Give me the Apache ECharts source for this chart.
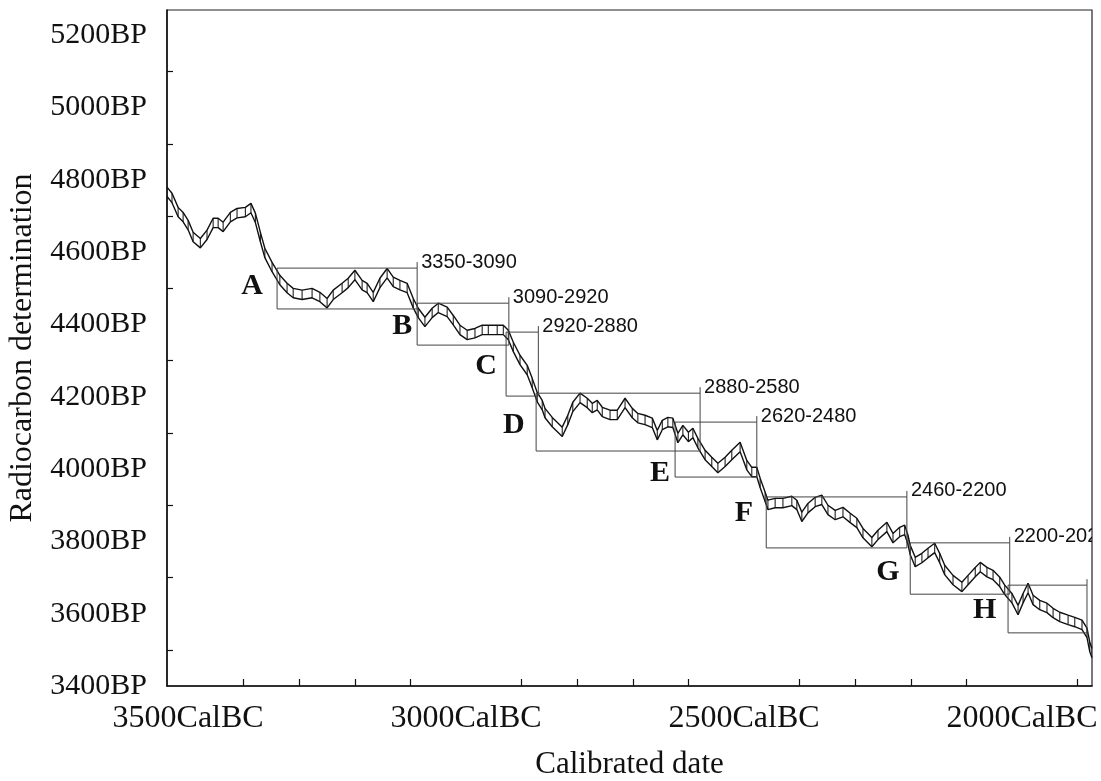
<!DOCTYPE html>
<html>
<head>
<meta charset="utf-8">
<title>Radiocarbon calibration curve plateaus</title>
<script src="https://cdn.jsdelivr.net/npm/echarts@6/dist/echarts.min.js"></script>
<style>
  html, body { margin: 0; padding: 0; background: #fff; }
  #chart { width: 1101px; height: 781px; }
</style>
</head>
<body>
<div id="chart"></div>
<script>
// Calibration curve, mid-line of the 1-sigma band: calendar year (BC) and radiocarbon age (BP)
const calYearsBC = [
  3538, 3529, 3518, 3509, 3500, 3491, 3478, 3466, 3455, 3446, 3437, 3424, 3412, 3397, 3387, 3379,
  3370, 3362, 3349, 3335, 3322, 3311, 3295, 3277, 3263, 3250, 3239, 3223, 3212, 3200, 3187, 3178,
  3167, 3155, 3142, 3131, 3119, 3106, 3095, 3086, 3074, 3061, 3050, 3034, 3023, 3011, 2998, 2984,
  2971, 2960, 2944, 2933, 2924, 2915, 2903, 2890, 2881, 2872, 2863, 2858, 2845, 2827, 2817, 2808,
  2795, 2782, 2773, 2764, 2755, 2741, 2728, 2714, 2701, 2691, 2678, 2665, 2656, 2647, 2637, 2628,
  2619, 2610, 2600, 2592, 2583, 2570, 2558, 2547, 2534, 2522, 2507, 2495, 2486, 2477, 2471, 2462,
  2457, 2444, 2430, 2414, 2405, 2396, 2385, 2372, 2360, 2349, 2336, 2322, 2309, 2297, 2286, 2270,
  2259, 2243, 2232, 2220, 2211, 2205, 2201, 2192, 2180, 2169, 2157, 2148, 2139, 2124, 2108, 2097,
  2084, 2075, 2063, 2052, 2040, 2031, 2018, 2007, 1998, 1989, 1980, 1968, 1955, 1944, 1932, 1917,
  1905, 1892, 1883, 1878, 1874
];
const radiocarbonBP = [
  4767, 4750, 4711, 4697, 4675, 4642, 4625, 4648, 4681, 4681, 4670, 4697, 4708, 4711, 4722, 4695,
  4642, 4598, 4559, 4523, 4501, 4487, 4482, 4487, 4476, 4459, 4482, 4501, 4515, 4537, 4509, 4501,
  4476, 4515, 4542, 4518, 4509, 4501, 4459, 4432, 4407, 4432, 4446, 4435, 4412, 4385, 4371, 4376,
  4385, 4385, 4385, 4385, 4371, 4338, 4302, 4274, 4238, 4199, 4177, 4155, 4130, 4103, 4136, 4172,
  4197, 4183, 4169, 4177, 4158, 4150, 4150, 4183, 4155, 4141, 4136, 4128, 4094, 4122, 4130, 4128,
  4086, 4108, 4089, 4100, 4072, 4039, 4020, 4003, 4020, 4039, 4061, 4011, 3992, 3992, 3962, 3923,
  3901, 3906, 3906, 3912, 3901, 3868, 3892, 3909, 3915, 3887, 3873, 3881, 3865, 3851, 3823, 3798,
  3818, 3840, 3809, 3826, 3832, 3804, 3776, 3743, 3754, 3768, 3782, 3754, 3721, 3693, 3674, 3693,
  3715, 3729, 3715, 3707, 3688, 3666, 3643, 3610, 3643, 3671, 3638, 3624, 3616, 3602, 3591, 3583,
  3577, 3569, 3547, 3508, 3491
];
// Half-width of the band (1 sigma), in radiocarbon years
const curveSigma = 13;

// Plateau boxes: calendar span (BC), radiocarbon span (BP), letter and caption
const plateauFromBC  = [3340, 3088, 2928, 2874, 2624, 2460, 2201, 2025];
const plateauToBC    = [3088, 2923, 2870, 2579, 2477, 2207, 2022, 1883];
const plateauLowBP   = [4443, 4343, 4202, 4050, 3978, 3782, 3654, 3547];
const plateauHighBP  = [4556, 4459, 4379, 4210, 4130, 3923, 3796, 3679];
const plateauLetters = ['A', 'B', 'C', 'D', 'E', 'F', 'G', 'H'];
const plateauCaptions = ['3350-3090', '3090-2920', '2920-2880', '2880-2580', '2620-2480', '2460-2200', '2200-2020', ''];
// Where each letter sits (BC, BP)
const letterBC = [3385, 3115, 2964, 2914, 2651, 2500, 2241, 2067];
const letterBP = [4507, 4396, 4285, 4122, 3989, 3879, 3715, 3610];

// Axis labels and tick marks
const yLabelValues = [3400, 3600, 3800, 4000, 4200, 4400, 4600, 4800, 5000, 5200];
const yTickValues  = [3500, 3700, 3900, 4100, 4300, 4500, 4700, 4900, 5100];
const xLabelValues = [3500, 3000, 2500, 2000];
const xTickValues  = [3400, 3300, 3200, 3100, 2900, 2800, 2700, 2600, 2400, 2300, 2200, 2100, 1900];

const serif = '"Liberation Serif", "Times New Roman", serif';
const sans = '"Liberation Sans", Arial, sans-serif';
const ink = '#111';

const upper = calYearsBC.map((x, i) => [x, radiocarbonBP[i] + curveSigma]);
const lower = calYearsBC.map((x, i) => [x, radiocarbonBP[i] - curveSigma]);
const hatch = calYearsBC.map((x, i) => [x, radiocarbonBP[i] - curveSigma, radiocarbonBP[i] + curveSigma]);
const boxes = plateauFromBC.map((f, i) => [f, plateauHighBP[i], plateauToBC[i], plateauLowBP[i], letterBC[i], letterBP[i]]);

const chart = echarts.init(document.getElementById('chart'), null, { renderer: 'canvas' });

chart.setOption({
  animation: false,
  backgroundColor: '#fff',
  grid: {
    left: 167, right: 9, top: 10, bottom: 95,
    outerBoundsMode: 'none',
    containLabel: false,
    show: true, borderColor: '#222', borderWidth: 1.2, backgroundColor: 'transparent'
  },
  xAxis: {
    type: 'value',
    inverse: true,
    min: 1874,
    max: 3538,
    name: 'Calibrated date',
    nameLocation: 'middle',
    nameGap: 63,
    nameTextStyle: { fontFamily: serif, fontSize: 31, color: ink },
    axisLine: { show: true, lineStyle: { color: '#111', width: 1.5 } },
    axisTick: { show: true, inside: true, length: 7, customValues: xTickValues, lineStyle: { color: '#111', width: 1.2 } },
    axisLabel: {
      customValues: xLabelValues,
      formatter: v => v + 'CalBC',
      fontFamily: serif, fontSize: 32, color: ink, margin: 17
    },
    splitLine: { show: false }
  },
  yAxis: {
    type: 'value',
    min: 3400,
    max: 5270,
    name: 'Radiocarbon determination',
    nameLocation: 'middle',
    nameRotate: 90,
    nameGap: 128,
    nameTextStyle: { fontFamily: serif, fontSize: 32, color: ink },
    axisLine: { show: true, lineStyle: { color: '#111', width: 1.5 } },
    axisTick: { show: true, inside: true, length: 6, customValues: yTickValues, lineStyle: { color: '#111', width: 1.2 } },
    axisLabel: {
      customValues: yLabelValues,
      formatter: v => v + 'BP',
      fontFamily: serif, fontSize: 30, color: ink, margin: 20
    },
    splitLine: { show: false }
  },
  series: [
    {
      // vertical hatching inside the 1-sigma band
      type: 'custom',
      data: hatch,
      clip: true,
      silent: true,
      renderItem: (params, api) => {
        const a = api.coord([api.value(0), api.value(1)]);
        const b = api.coord([api.value(0), api.value(2)]);
        return {
          type: 'line',
          shape: { x1: a[0], y1: a[1], x2: b[0], y2: b[1] },
          style: { stroke: '#222', lineWidth: 1.1 }
        };
      },
      z: 3
    },
    {
      type: 'line',
      data: upper,
      showSymbol: false,
      clip: true,
      lineStyle: { color: '#111', width: 1.4 },
      silent: true,
      z: 4
    },
    {
      type: 'line',
      data: lower,
      showSymbol: false,
      clip: true,
      lineStyle: { color: '#111', width: 1.4 },
      silent: true,
      z: 4
    },
    {
      // plateau boxes with their letters and calendar captions
      type: 'custom',
      data: boxes,
      clip: true,
      silent: true,
      renderItem: (params, api) => {
        const i = params.dataIndex;
        const tl = api.coord([api.value(0), api.value(1)]);
        const br = api.coord([api.value(2), api.value(3)]);
        const lp = api.coord([api.value(4), api.value(5)]);
        const children = [
          {
            type: 'rect',
            shape: { x: tl[0], y: tl[1], width: br[0] - tl[0], height: br[1] - tl[1] },
            style: { fill: 'none', stroke: '#444', lineWidth: 1 }
          },
          {
            type: 'line',
            shape: { x1: br[0], y1: tl[1], x2: br[0], y2: tl[1] - 6 },
            style: { stroke: '#444', lineWidth: 1 }
          },
          {
            type: 'text',
            style: {
              x: lp[0], y: lp[1], text: plateauLetters[i],
              font: 'bold 30px ' + serif, fill: ink, align: 'center', verticalAlign: 'middle'
            }
          }
        ];
        if (plateauCaptions[i]) {
          children.push({
            type: 'text',
            style: {
              x: br[0] + 4, y: tl[1] - 6, text: plateauCaptions[i],
              font: '20px ' + sans, fill: ink, align: 'left', verticalAlign: 'middle'
            }
          });
        }
        return { type: 'group', children };
      },
      z: 5
    }
  ]
});
</script>
</body>
</html>
